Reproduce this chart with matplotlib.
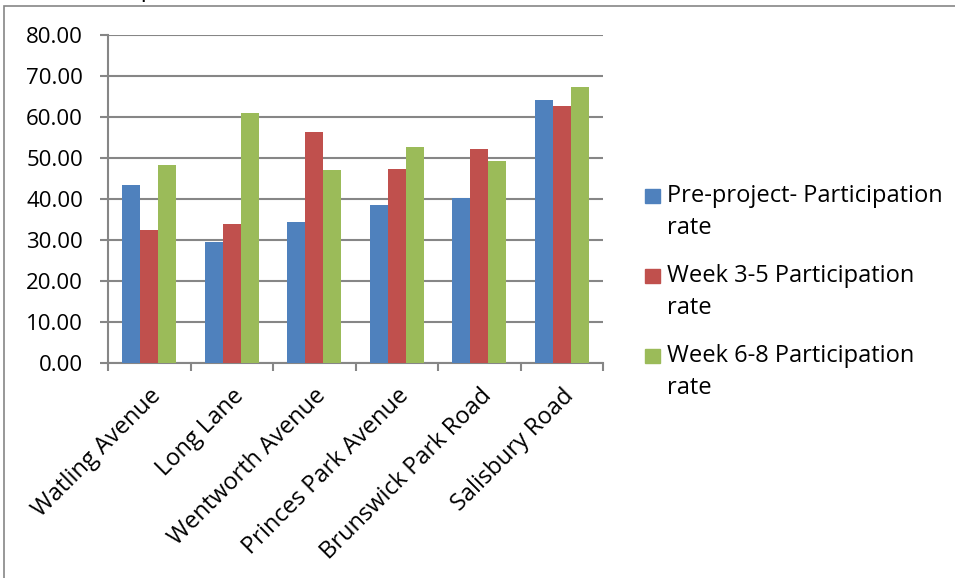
import numpy as np
import matplotlib.pyplot as plt
from matplotlib.patches import Rectangle

streets = ["Watling Avenue", "Long Lane", "Wentworth Avenue", "Princes Park Avenue",
           "Brunswick Park Road", "Salisbury Road"]
pre_project = [43.4, 29.6, 34.5, 38.5, 40.3, 64.1]
week_3_5 = [32.4, 33.9, 56.3, 47.2, 52.3, 62.8]
week_6_8 = [48.3, 60.9, 47.1, 52.6, 49.3, 67.4]
series_names = ["Pre-project- Participation\nrate", "Week 3-5 Participation\nrate",
                "Week 6-8 Participation\nrate"]
colors = ["#4F81BD", "#C0504D", "#9BBB59"]

plt.rcParams['font.family'] = ['Open Sans', 'DejaVu Sans']

fig = plt.figure(figsize=(9.55, 5.78), dpi=100)
W, H = 955, 578
ax = fig.add_axes([108 / W, 1 - 363 / H, 495 / W, 328 / H])

# outer chart frame (cut off at right/bottom)
fig.patches.append(Rectangle((4 / W, -0.1), 1.2, 1 - 6 / H + 0.1, transform=fig.transFigure,
                             fill=False, edgecolor="#868686", linewidth=1.2))
# title, mostly cut off above the frame
fig.text(338 / W, 1 + 3.5 / H, "Participation (all streets)", ha="right", va="baseline",
         fontsize=17)

x = np.arange(len(streets))
bw = 0.22
for i, vals in enumerate([pre_project, week_3_5, week_6_8]):
    ax.bar(x + (i - 1) * bw, vals, width=bw, color=colors[i], zorder=3)

ax.set_xlim(-0.5, len(streets) - 0.5)
ax.set_ylim(0, 80)
ax.set_yticks(np.arange(0, 81, 10))
ax.set_yticklabels([f"{v:.2f}" for v in np.arange(0, 81, 10)])
ax.yaxis.grid(True, color="#868686", linewidth=1.5, zorder=0)
ax.set_axisbelow(True)
for s in ["top", "right"]:
    ax.spines[s].set_visible(False)
for s in ["left", "bottom"]:
    ax.spines[s].set_color("#868686")
    ax.spines[s].set_linewidth(1.5)
ax.tick_params(axis="y", length=6, color="#868686", width=1.5, labelsize=16, pad=12)
ax.set_xticks(np.arange(len(streets) + 1) - 0.5, minor=False)
ax.set_xticklabels([""] * (len(streets) + 1))
ax.tick_params(axis="x", length=6, color="#868686", width=1.5)
ax.set_xticks(x, minor=True)
ax.set_xticklabels(streets, minor=True, rotation=45, ha="right", rotation_mode="anchor",
                   fontsize=17)
ax.tick_params(axis="x", which="minor", length=0, pad=15)

# legend, drawn by hand so the swatch sits beside the first line
for i, name in enumerate(series_names):
    top = 188 + 80 * i
    fig.patches.append(Rectangle((645 / W, 1 - (top + 15) / H), 15 / W, 14 / H,
                                 transform=fig.transFigure, color=colors[i]))
    fig.text(667 / W, 1 - (top - 4) / H, name, ha="left", va="top", fontsize=17,
             linespacing=1.47)

fig.savefig("out.png", dpi=100)
